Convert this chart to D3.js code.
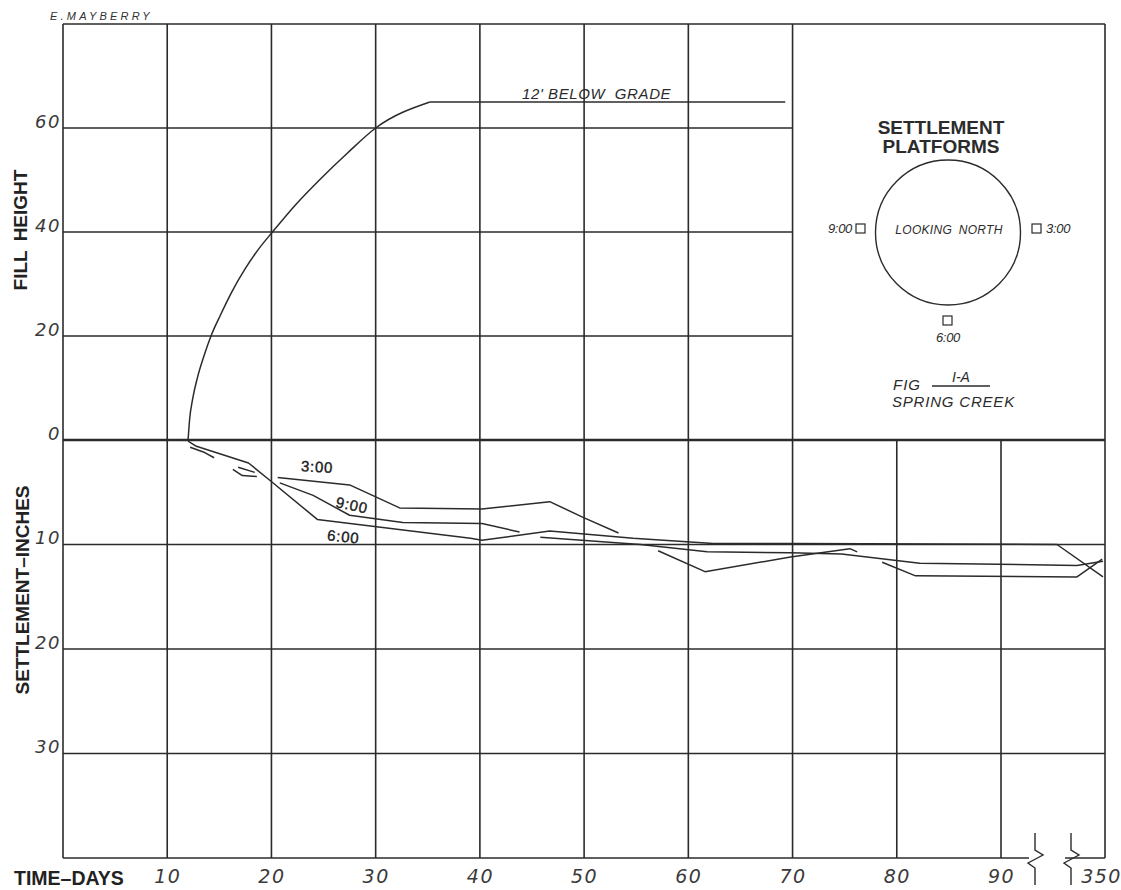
<!DOCTYPE html>
<html>
<head>
<meta charset="utf-8">
<script src="https://cdn.jsdelivr.net/npm/d3@7"></script>
<style>
  html, body { margin: 0; padding: 0; background: #fff; }
  svg { display: block; }
</style>
</head>
<body>
<svg id="chart" width="1121" height="890"></svg>
<script>
// ---- data ----------------------------------------------------------------
// Fill placed over time (fill height, feet)
const fillDays    = [12.0, 12.15, 12.45, 12.9, 13.5, 14.2, 15.1, 16.2, 17.5, 18.8, 20.1, 22.3, 24.7, 27.3, 30.0, 35.2, 69.3];
const fillHeights = [0,    4,     8,     12,   16,   20,   24,   28.5, 33,   36.8, 40,   45.2, 50.2, 55.2, 60,   65,   65];

// Settlement readings [day, inches]; null marks a break in the plotted line
const settle300 = [[12.2,0.7],[13.6,1.2],[14.5,1.7], null,
  [20.6,3.6],[27.5,4.3],[32.3,6.5],[40.2,6.6],[46.7,5.9],[49.9,7.4],[53.3,8.9], null,
  [57.1,10.6],[61.6,12.6],[69.8,11.2],[75.5,10.4],[76.2,10.7], null,
  [78.6,11.7],[81.8,13.0],[280,13.1],[343,11.4]];
const settle900 = [[16.3,2.8],[17.2,3.4],[18.6,3.5], null,
  [16.8,2.6],[18.4,3.1], null,
  [20.8,4.1],[24.0,5.3],[27.5,7.2],[32.6,7.9],[40.2,8.0],[43.8,8.8], null,
  [45.8,9.3],[55.4,10.0],[61.8,10.7],[69.8,10.8],[74.7,10.9],[82.2,11.8],[280,12.0],[345,11.6]];
const settle600 = [[12.0,0.1],[12.8,0.6],[17.8,2.2],[19.9,3.9],[24.4,7.6],[39.1,9.4],[40.2,9.6],
  [46.7,8.7],[54.7,9.4],[62.4,9.9],[69.8,9.9],[230,10.0],[345,13.1]];

// Axis ticks
const dayTicks     = [10, 20, 30, 40, 50, 60, 70, 80, 90, 350];
const fillTicks    = [0, 20, 40, 60];
const settleTicks  = [10, 20, 30];
const upperDayGrid = [0, 10, 20, 30, 40, 50, 60, 70];
const lowerDayGrid = [10, 20, 30, 40, 50, 60, 70, 80, 90];

// ---- scales --------------------------------------------------------------
const x     = d3.scaleLinear().domain([0, 90, 350]).range([63, 1001, 1105]);
const yFill = d3.scaleLinear().domain([0, 80]).range([440, 24]);
const ySet  = d3.scaleLinear().domain([0, 40]).range([440, 858]);

const svg = d3.select("#chart");
const ink = "#2b2b2b";
const gridW = 1.6;

const grid = svg.append("g").attr("stroke", ink).attr("stroke-width", gridW).attr("fill", "none");

// upper panel verticals (fill height section)
grid.selectAll(".vu").data(upperDayGrid).join("line")
  .attr("x1", d => x(d)).attr("x2", d => x(d))
  .attr("y1", yFill(80)).attr("y2", yFill(0));
// lower panel verticals (settlement section)
grid.selectAll(".vl").data(lowerDayGrid).join("line")
  .attr("x1", d => x(d)).attr("x2", d => x(d))
  .attr("y1", ySet(0)).attr("y2", ySet(40));
// left border through lower panel
grid.append("line").attr("x1", x(0)).attr("x2", x(0)).attr("y1", ySet(0)).attr("y2", ySet(40));
// right border
grid.append("line").attr("x1", x(350)).attr("x2", x(350)).attr("y1", yFill(80)).attr("y2", ySet(40));
// top border
grid.append("line").attr("x1", x(0)).attr("x2", x(350)).attr("y1", yFill(80)).attr("y2", yFill(80));
// upper horizontals
grid.selectAll(".hu").data([20, 40, 60]).join("line")
  .attr("x1", x(0)).attr("x2", x(70))
  .attr("y1", d => yFill(d)).attr("y2", d => yFill(d));
// lower horizontals
grid.selectAll(".hl").data(settleTicks).join("line")
  .attr("x1", x(0)).attr("x2", x(350))
  .attr("y1", d => ySet(d)).attr("y2", d => ySet(d));
// zero line
grid.append("line").attr("x1", x(0)).attr("x2", x(350))
  .attr("y1", ySet(0)).attr("y2", ySet(0)).attr("stroke-width", 2.4);
// bottom border, broken between day 90 and day 350
const brk1 = 1035, brk2 = 1071, yb = ySet(40);
grid.append("line").attr("x1", x(0)).attr("x2", brk1 - 6).attr("y1", yb).attr("y2", yb);
grid.append("line").attr("x1", brk2 - 6).attr("x2", x(350)).attr("y1", yb).attr("y2", yb);
// break marks
[brk1, brk2].forEach(bx => {
  grid.append("path")
    .attr("stroke-width", 1.4)
    .attr("d", `M${bx},${yb - 25} L${bx},${yb - 8} L${bx + 8},${yb - 3} L${bx - 7},${yb + 5} L${bx},${yb + 10} L${bx},${yb + 27}`);
});

// ---- fill height curve --------------------------------------------------
const fillPts = fillDays.map((d, i) => [d, fillHeights[i]]);
const nRise = fillPts.length - 1;          // rising part ends where the fill levels off
const fillLine = d3.line().x(d => x(d[0])).y(d => yFill(d[1]));
svg.append("path")
  .datum(fillPts.slice(0, nRise))
  .attr("fill", "none").attr("stroke", ink).attr("stroke-width", 1.5)
  .attr("d", fillLine.curve(d3.curveMonotoneX));
svg.append("path")
  .datum(fillPts.slice(nRise - 1))
  .attr("fill", "none").attr("stroke", ink).attr("stroke-width", 1.5)
  .attr("d", fillLine.curve(d3.curveLinear));

svg.append("text")
  .attr("x", 522).attr("y", 99)
  .attr("font-family", "'Liberation Sans', Arial, sans-serif")
  .attr("font-style", "italic").attr("font-size", 15).attr("fill", ink)
  .attr("letter-spacing", 0.6)
  .style("white-space", "pre")
  .text("12' BELOW  GRADE");

// ---- settlement lines ----------------------------------------------------
const setLine = d3.line().defined(d => d !== null).x(d => x(d[0])).y(d => ySet(d[1]));
[settle300, settle900, settle600].forEach(s => {
  svg.append("path").datum(s)
    .attr("fill", "none").attr("stroke", ink).attr("stroke-width", 1.5)
    .attr("stroke-linejoin", "round")
    .attr("d", setLine);
});

const lblFont = "'Liberation Sans', Arial, sans-serif";
const seriesLabels = [
  { t: "3:00", day: 22.8, inch: 3.0, rot: 3 },
  { t: "9:00", day: 26.1, inch: 6.4, rot: 12 },
  { t: "6:00", day: 25.3, inch: 9.6, rot: 6 }
];
svg.selectAll(".slbl").data(seriesLabels).join("text")
  .attr("transform", d => `translate(${x(d.day)},${ySet(d.inch)}) rotate(${d.rot})`)
  .attr("font-family", lblFont).attr("font-size", 15).attr("fill", "#1a1a1a")
  .attr("stroke", "#1a1a1a").attr("stroke-width", 0.35)
  .attr("letter-spacing", 0.8)
  .text(d => d.t);

// ---- axes labels ---------------------------------------------------------
const numFont = "'DejaVu Sans', 'Liberation Sans', sans-serif";

const axB = svg.append("g").attr("transform", `translate(0, 883)`)
  .call(d3.axisBottom(x).tickValues(dayTicks).tickSize(0).tickPadding(0).tickFormat(d3.format("d")));
axB.select(".domain").remove();
axB.selectAll("text")
  .attr("font-family", numFont).attr("font-style", "italic").attr("font-size", 19)
  .attr("fill", "#3a3a3a").attr("dy", 0).attr("y", 0).attr("letter-spacing", 1.5)
  .attr("dx", d => d === 350 ? -4 : 0);

const axL1 = svg.append("g").attr("transform", "translate(61,0)")
  .call(d3.axisLeft(yFill).tickValues(fillTicks).tickSize(0).tickPadding(0).tickFormat(d3.format("d")));
const axL2 = svg.append("g").attr("transform", "translate(61,0)")
  .call(d3.axisLeft(ySet).tickValues(settleTicks).tickSize(0).tickPadding(0).tickFormat(d3.format("d")));
[axL1, axL2].forEach(a => {
  a.select(".domain").remove();
  a.selectAll("text")
    .attr("font-family", numFont).attr("font-style", "italic").attr("font-size", 18)
    .attr("fill", "#3a3a3a").attr("dy", "-0.05em").attr("letter-spacing", 1.5);
});

svg.append("text").attr("x", 14).attr("y", 885)
  .attr("font-family", "'Liberation Sans', Arial, sans-serif").attr("font-weight", "bold")
  .attr("font-size", 19.5).attr("fill", "#222").text("TIME–DAYS");

svg.append("text")
  .attr("transform", "translate(27,230) rotate(-90)")
  .attr("text-anchor", "middle")
  .attr("font-family", "'Liberation Sans', Arial, sans-serif").attr("font-weight", "bold")
  .attr("font-size", 19).attr("fill", "#222").attr("word-spacing", 4)
  .text("FILL HEIGHT");

svg.append("text")
  .attr("transform", "translate(29,590) rotate(-90)")
  .attr("text-anchor", "middle")
  .attr("font-family", "'Liberation Sans', Arial, sans-serif").attr("font-weight", "bold")
  .attr("font-size", 19).attr("fill", "#222")
  .text("SETTLEMENT–INCHES");

// drafter's signature
svg.append("text").attr("x", 50).attr("y", 20)
  .attr("font-family", "'Liberation Sans', Arial, sans-serif")
  .attr("font-style", "italic").attr("font-size", 11).attr("fill", "#333")
  .attr("letter-spacing", 3.2)
  .text("E.MAYBERRY");

// ---- platform layout key ---------------------------------------------------
const key = svg.append("g").attr("fill", ink);
const kFont = "'Liberation Sans', Arial, sans-serif";
key.append("text").attr("x", 941).attr("y", 134).attr("text-anchor", "middle")
  .attr("font-family", kFont).attr("font-weight", "bold").attr("font-size", 19)
  .text("SETTLEMENT");
key.append("text").attr("x", 941).attr("y", 153).attr("text-anchor", "middle")
  .attr("font-family", kFont).attr("font-weight", "bold").attr("font-size", 19)
  .text("PLATFORMS");

const cx = 948, cy = 232.5, r = 72.5;
key.append("circle").attr("cx", cx).attr("cy", cy).attr("r", r)
  .attr("fill", "none").attr("stroke", ink).attr("stroke-width", 1.4);
key.append("text").attr("x", cx + 1).attr("y", cy + 1).attr("text-anchor", "middle")
  .attr("font-family", kFont).attr("font-style", "italic").attr("font-size", 12)
  .attr("letter-spacing", 0.3).attr("word-spacing", 3)
  .text("LOOKING NORTH");

const platforms = [
  { t: "9:00", sx: 856, sy: 224, tx: 852, ty: 233, anchor: "end" },
  { t: "3:00", sx: 1032, sy: 224, tx: 1046, ty: 233, anchor: "start" },
  { t: "6:00", sx: 943, sy: 316, tx: 948, ty: 342, anchor: "middle" }
];
key.selectAll(".plat").data(platforms).join("rect")
  .attr("x", d => d.sx).attr("y", d => d.sy).attr("width", 9).attr("height", 9)
  .attr("fill", "none").attr("stroke", ink).attr("stroke-width", 1.2);
key.selectAll(".platT").data(platforms).join("text")
  .attr("x", d => d.tx).attr("y", d => d.ty).attr("text-anchor", d => d.anchor)
  .attr("font-family", kFont).attr("font-style", "italic").attr("font-size", 13)
  .attr("letter-spacing", -0.3)
  .text(d => d.t);

key.append("text").attr("x", 893).attr("y", 390)
  .attr("font-family", kFont).attr("font-style", "italic").attr("font-size", 15)
  .attr("letter-spacing", 1).text("FIG");
key.append("text").attr("x", 961).attr("y", 382).attr("text-anchor", "middle")
  .attr("font-family", kFont).attr("font-style", "italic").attr("font-size", 14)
  .text("I-A");
key.append("line").attr("x1", 932).attr("x2", 990).attr("y1", 386).attr("y2", 386)
  .attr("stroke", ink).attr("stroke-width", 1.3);
key.append("text").attr("x", 892).attr("y", 407)
  .attr("font-family", kFont).attr("font-style", "italic").attr("font-size", 15)
  .attr("letter-spacing", 0.8)
  .text("SPRING CREEK");
</script>
</body>
</html>
